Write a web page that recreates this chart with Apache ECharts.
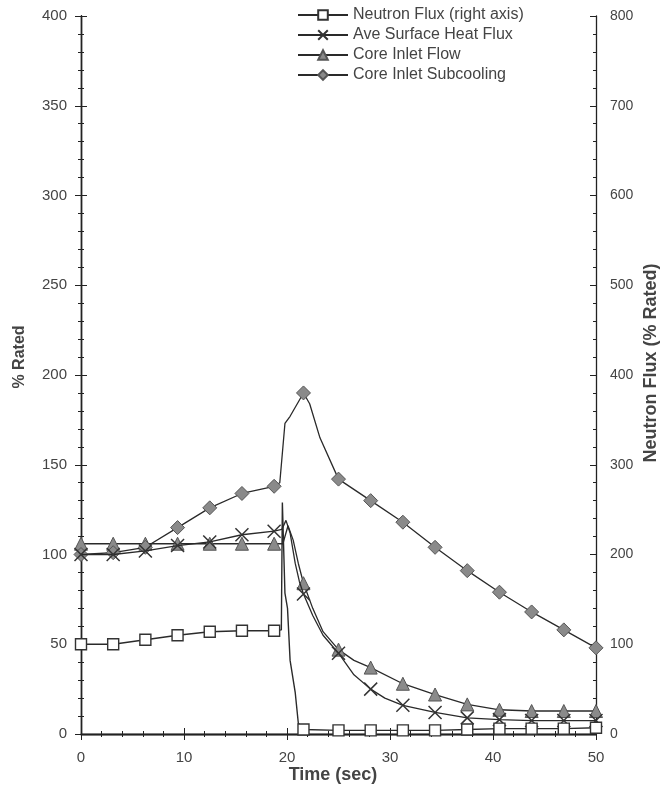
<!DOCTYPE html>
<html>
<head>
<meta charset="utf-8">
<script src="https://cdn.jsdelivr.net/npm/echarts@6/dist/echarts.min.js"></script>
<style>
html,body{margin:0;padding:0;background:#fff;}
#chart{width:665px;height:793px;}
</style>
</head>
<body>
<div id="chart"></div>
<script>
// ---- data (time in sec, value in % rated) ----
const markerTimes = [0, 3.125, 6.25, 9.375, 12.5, 15.625, 18.75, 21.6, 25, 28.125, 31.25, 34.375, 37.5, 40.625, 43.75, 46.875, 50];

const neutronFlux = [[0,100],[3.125,100],[6.25,105],[9.375,110],[12.5,114],[15.625,115],[18.75,115],[19.45,116],[19.55,258],[19.8,157],[20.05,140],[20.3,82],[20.8,46],[21.1,12],[21.6,5],[25,4],[28.125,4],[31.25,4],[34.375,4],[37.5,5],[40.625,6],[43.75,6],[46.875,6],[50,7]];

const heatFlux = [[0,100],[3.125,100],[6.25,102],[9.375,105],[12.5,107],[15.625,111],[18.75,113],[19.5,114],[19.9,119],[20.3,112],[20.8,95],[21.2,85],[21.6,78],[22.5,66],[23.5,55],[25,45],[26.5,33],[28.125,25],[29.5,20],[31.25,16],[34.375,12],[37.5,9],[40.625,8],[43.75,7.5],[46.875,7.5],[50,7.5]];

const inletFlow = [[0,106],[3.125,106],[6.25,106],[9.375,106],[12.5,106],[15.625,106],[18.75,106],[19.6,106],[20.1,116],[20.6,108],[21.1,95],[21.6,84],[22.5,70],[23.5,57],[25,47],[26.5,41],[28.125,37],[31.25,28],[34.375,22],[37.5,16.5],[40.625,13.5],[43.75,12.8],[46.875,12.8],[50,12.8]];

const subcooling = [[0,100],[3.125,101],[6.25,104],[9.375,115],[12.5,126],[15.625,134],[18.75,138],[19.3,140],[19.8,173],[20.3,177],[21.6,190],[22.2,184],[23.2,165],[25,142],[28.125,130],[31.25,118],[34.375,104],[37.5,91],[40.625,79],[43.75,68],[46.875,58],[50,48]];

const seriesNames = ['Neutron Flux (right axis)', 'Ave Surface Heat Flux', 'Core Inlet Flow', 'Core Inlet Subcooling'];
const xTitle = 'Time (sec)';
const yLeftTitle = '% Rated';
const yRightTitle = 'Neutron Flux (% Rated)';

// ---- chart ----
const chart = echarts.init(document.getElementById('chart'), null, {renderer:'canvas'});
const FONT = 'Liberation Sans, Arial, sans-serif';
const lineCol = '#2a2a2a';
const textCol = '#444';

function sizeFn(sz){
  return function(val){ return markerTimes.indexOf(val[0]) >= 0 ? sz : 0; };
}
const xPath = 'path://M0,0 L10,10 M10,0 L0,10';

function axisCommon(extra){
  return Object.assign({
    axisLine:{show:true,lineStyle:{color:'#222',width:1.3}},
    splitLine:{show:false},
    minorSplitLine:{show:false}
  }, extra);
}

const option = {
  backgroundColor:'#fff',
  animation:false,
  grid:{left:81,right:69,top:16,bottom:59,containLabel:false},
  legend:{
    orient:'vertical',
    left:292, top:2,
    itemWidth:50, itemHeight:12, itemGap:4,
    textStyle:{fontFamily:FONT,fontSize:16,color:textCol},
    data:seriesNames
  },
  xAxis:[
    axisCommon({type:'value',position:'bottom',min:0,max:50,interval:10,
      axisTick:{show:true,inside:false,length:6,lineStyle:{color:'#222'}},
      minorTick:{show:true,splitNumber:5,length:3,lineStyle:{color:'#222'}},
      axisLabel:{fontFamily:FONT,fontSize:15,color:textCol,margin:16}}),
    axisCommon({type:'value',position:'bottom',min:0,max:50,interval:10,
      axisTick:{show:true,inside:true,length:6,lineStyle:{color:'#222'}},
      minorTick:{show:true,splitNumber:5,length:3,lineStyle:{color:'#222'}},
      axisLabel:{show:false}}),
    axisCommon({type:'value',position:'top',min:0,max:50,interval:10,
      axisTick:{show:true,inside:true,length:4,lineStyle:{color:'#222'}},
      minorTick:{show:true,splitNumber:5,length:2,lineStyle:{color:'#222'}},
      axisLabel:{show:false}})
  ],
  yAxis:[
    axisCommon({type:'value',position:'left',min:0,max:400,interval:50,
      axisTick:{show:true,inside:false,length:6,lineStyle:{color:'#222'}},
      minorTick:{show:true,splitNumber:5,length:3,lineStyle:{color:'#222'}},
      axisLabel:{fontFamily:FONT,fontSize:15,color:textCol,margin:14}}),
    axisCommon({type:'value',position:'right',min:0,max:800,interval:100,
      axisTick:{show:true,inside:false,length:6,lineStyle:{color:'#222'}},
      minorTick:{show:true,splitNumber:5,length:3,lineStyle:{color:'#222'}},
      axisLabel:{fontFamily:FONT,fontSize:14,color:textCol,margin:14}}),
    axisCommon({type:'value',position:'left',min:0,max:400,interval:50,
      axisTick:{show:true,inside:true,length:6,lineStyle:{color:'#222'}},
      minorTick:{show:true,splitNumber:5,length:3,lineStyle:{color:'#222'}},
      axisLabel:{show:false}}),
    axisCommon({type:'value',position:'right',min:0,max:800,interval:100,
      axisTick:{show:true,inside:true,length:6,lineStyle:{color:'#222'}},
      minorTick:{show:true,splitNumber:5,length:3,lineStyle:{color:'#222'}},
      axisLabel:{show:false}})
  ],
  graphic:[
    {type:'text',x:333,y:775,style:{text:xTitle,fontFamily:FONT,fontSize:18,fontWeight:'bold',fill:'#444',align:'center',verticalAlign:'middle'}},
    {type:'text',x:20,y:357,rotation:Math.PI/2,style:{text:yLeftTitle,fontFamily:FONT,fontSize:16,fontWeight:'bold',fill:'#444',align:'center',verticalAlign:'middle'}},
    {type:'text',x:651,y:363,rotation:Math.PI/2,style:{text:yRightTitle,fontFamily:FONT,fontSize:18,fontWeight:'bold',fill:'#444',align:'center',verticalAlign:'middle'}}
  ],
  series:[
    {name:seriesNames[0],type:'line',xAxisIndex:0,yAxisIndex:1,data:neutronFlux,
      symbol:'rect',symbolSize:sizeFn(11),showSymbol:true,
      lineStyle:{color:lineCol,width:1.4},
      itemStyle:{color:'#fff',borderColor:'#333',borderWidth:1.4},z:5},
    {name:seriesNames[1],type:'line',xAxisIndex:0,yAxisIndex:0,data:heatFlux,
      symbol:xPath,symbolSize:sizeFn(13),showSymbol:true,
      lineStyle:{color:lineCol,width:1.3},
      itemStyle:{color:'rgba(0,0,0,0)',borderColor:'#333',borderWidth:1.5},z:4},
    {name:seriesNames[2],type:'line',xAxisIndex:0,yAxisIndex:0,data:inletFlow,
      symbol:'triangle',symbolSize:sizeFn(13),showSymbol:true,
      lineStyle:{color:lineCol,width:1.3},
      itemStyle:{color:'#8a8a8a',borderColor:'#555',borderWidth:1},z:3},
    {name:seriesNames[3],type:'line',xAxisIndex:0,yAxisIndex:0,data:subcooling,
      symbol:'diamond',symbolSize:sizeFn(14),showSymbol:true,
      lineStyle:{color:lineCol,width:1.3},
      itemStyle:{color:'#8a8a8a',borderColor:'#555',borderWidth:1},z:3}
  ]
};
chart.setOption(option);
</script>
</body>
</html>
